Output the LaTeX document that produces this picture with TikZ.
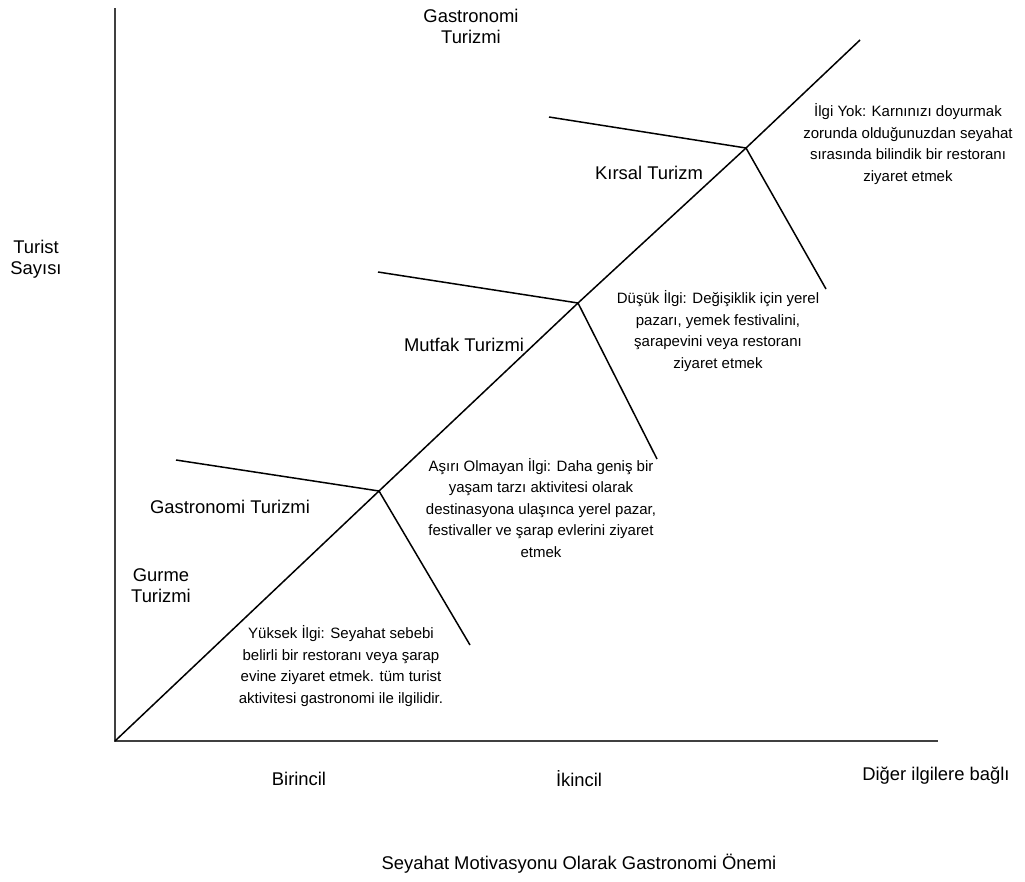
\documentclass[tikz,border=0pt]{standalone}
\usepackage{fontspec}
\setmainfont{Liberation Sans}
\begin{document}
\begin{tikzpicture}[x=1pt,y=-1pt,
  axisline/.style={draw=black!75,line width=1.9pt},
  stemline/.style={draw=black,line width=1.5pt},
  biglbl/.style={font=\fontsize{18.4}{21}\selectfont,align=center,inner sep=0pt,text=black},
  smalllbl/.style={font=\fontsize{15}{21.5}\selectfont,align=center,inner sep=0pt,text=black}]
\useasboundingbox[fill=white] (0,0) rectangle (1025,881);
% key points
\coordinate (O) at (115,741);
\coordinate (Ytop) at (115,8);
\coordinate (Xend) at (938,741);
\coordinate (Dend) at (860,40);
\coordinate (J1) at (379,491);
\coordinate (J2) at (578,303);
\coordinate (J3) at (746,148);
\coordinate (L1) at (176,460);
\coordinate (L2) at (378,272);
\coordinate (L3) at (549,117);
\coordinate (R1) at (470,645);
\coordinate (R2) at (657,459);
\coordinate (R3) at (826,289);
% axes
\draw[axisline] (Ytop) -- (O) -- (Xend);
% diagonal
\draw[stemline] (O) -- (J1) -- (J2) -- (J3) -- (Dend);
% branches
\draw[stemline] (L1) -- (J1) -- (R1);
\draw[stemline] (L2) -- (J2) -- (R2);
\draw[stemline] (L3) -- (J3) -- (R3);
% labels
\node[biglbl] (topgt) at (471,26) {Gastronomi\\Turizmi};
\node[biglbl] (kirsal) at (649,173) {Kırsal Turizm};
\node[biglbl] (mutfak) at (464,345) {Mutfak Turizmi};
\node[biglbl] (gastro) at (230,507) {Gastronomi Turizmi};
\node[biglbl] (gurme) at (161,586) {Gurme\\Turizmi};
\node[biglbl] (turist) at (36,259) {Turist\\Sayısı};
\node[smalllbl] (yok) at (908,144) {İlgi Yok: Karnınızı doyurmak\\zorunda olduğunuzdan seyahat\\sırasında bilindik bir restoranı\\ziyaret etmek};
\node[smalllbl] (dusuk) at (718,331) {Düşük İlgi: Değişiklik için yerel\\pazarı, yemek festivalini,\\şarapevini veya restoranı\\ziyaret etmek};
\node[smalllbl] (asiri) at (541,508) {Aşırı Olmayan İlgi: Daha geniş bir\\yaşam tarzı aktivitesi olarak\\destinasyona ulaşınca yerel pazar,\\festivaller ve şarap evlerini ziyaret\\etmek};
\node[smalllbl] (yuksek) at (341,666) {Yüksek İlgi: Seyahat sebebi\\belirli bir restoranı veya şarap\\evine ziyaret etmek. tüm turist\\aktivitesi gastronomi ile ilgilidir.};
\node[biglbl] (birincil) at (299,779) {Birincil};
\node[biglbl] (ikincil) at (579,779) {İkincil};
\node[biglbl] (diger) at (936,776) {Diğer ilgilere bağlı};
\node[biglbl] (title) at (579,864) {Seyahat Motivasyonu Olarak Gastronomi Önemi};
\end{tikzpicture}
\end{document}
